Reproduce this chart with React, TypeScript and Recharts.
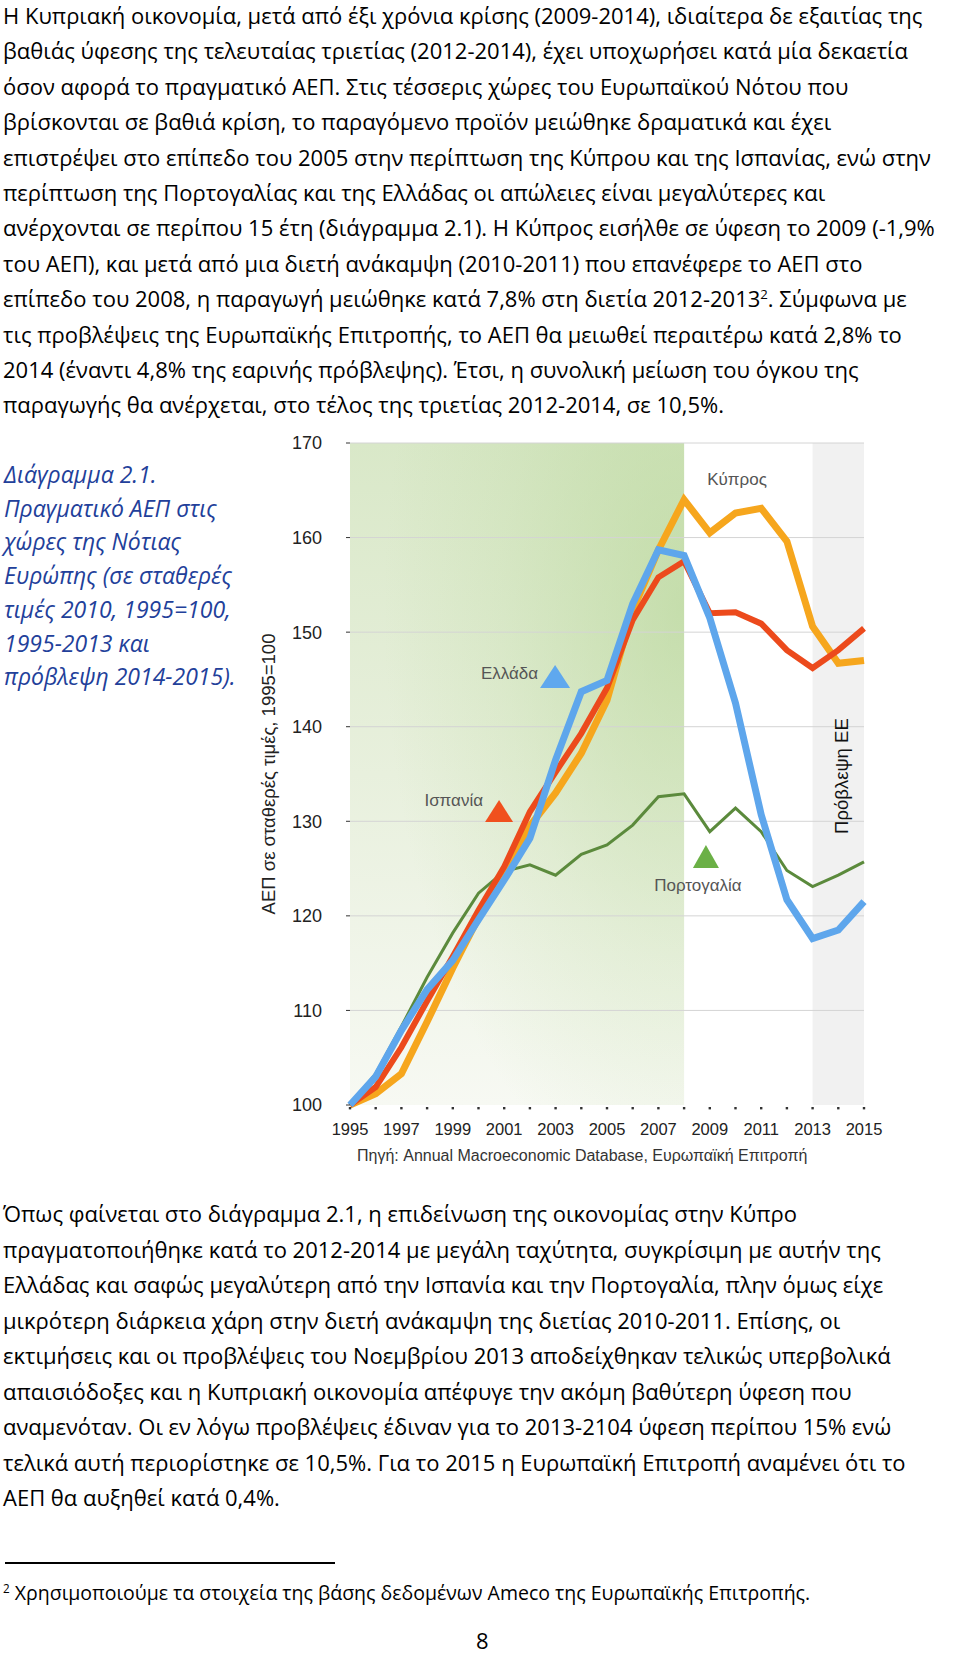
import React from 'react';
import {
  LineChart,
  Line,
  XAxis,
  YAxis,
  ReferenceArea,
  ReferenceLine,
  ReferenceDot,
} from 'recharts';

// Real GDP, constant prices, 1995=100 (AMECO)
const years = [
  1995, 1996, 1997, 1998, 1999, 2000, 2001, 2002, 2003, 2004, 2005,
  2006, 2007, 2008, 2009, 2010, 2011, 2012, 2013, 2014, 2015,
];
const cyprus = [
  100, 101.2, 103.3, 108.8, 114.5, 119.8, 124.5, 129.5, 133, 137.2, 142.8,
  152.3, 158.7, 164, 160.5, 162.6, 163.1, 159.6, 150.6, 146.7, 147,
];
const spain = [
  100, 101.9, 106.1, 111, 115.7, 120.6, 125.2, 131, 135.2, 139.3, 144.1,
  151.3, 155.8, 157.5, 152, 152.1, 150.9, 148.1, 146.2, 148.1, 150.4,
];
const greece = [
  100, 103, 107.9, 112.2, 115.3, 119.6, 123.8, 128.2, 136.5, 143.7, 144.9,
  153, 158.7, 158.1, 151.5, 142.5, 130.7, 121.7, 117.6, 118.5, 121.5,
];
const portugal = [
  100, 103.3, 108.3, 113.5, 118.2, 122.4, 124.7, 125.4, 124.3, 126.5, 127.5,
  129.6, 132.6, 132.9, 128.9, 131.4, 128.9, 124.8, 123.1, 124.3, 125.7,
];

const yTicks = [100, 110, 120, 130, 140, 150, 160, 170];
const gridValues = [110, 120, 130, 140, 150, 160, 170];
const xLabelYears = [1995, 1997, 1999, 2001, 2003, 2005, 2007, 2009, 2011, 2013, 2015];

const crisisStart = 1995;
const crisisEnd = 2008;
const forecastStart = 2013;
const forecastEnd = 2015;

const para1 = [
  'Η Κυπριακή οικονομία, μετά από έξι χρόνια κρίσης (2009-2014), ιδιαίτερα δε εξαιτίας της',
  'βαθιάς ύφεσης της τελευταίας τριετίας (2012-2014), έχει υποχωρήσει κατά μία δεκαετία',
  'όσον αφορά το πραγματικό ΑΕΠ. Στις τέσσερις χώρες του Ευρωπαϊκού Νότου που',
  'βρίσκονται σε βαθιά κρίση, το παραγόμενο προϊόν μειώθηκε δραματικά και έχει',
  'επιστρέψει στο επίπεδο του 2005 στην περίπτωση της Κύπρου και της Ισπανίας, ενώ στην',
  'περίπτωση της Πορτογαλίας και της Ελλάδας οι απώλειες είναι μεγαλύτερες και',
  'ανέρχονται σε περίπου 15 έτη (διάγραμμα 2.1). Η Κύπρος εισήλθε σε ύφεση το 2009 (-1,9%',
  'του ΑΕΠ), και μετά από μια διετή ανάκαμψη (2010-2011) που επανέφερε το ΑΕΠ στο',
  'επίπεδο του 2008, η παραγωγή μειώθηκε κατά 7,8% στη διετία 2012-2013^2. Σύμφωνα με',
  'τις προβλέψεις της Ευρωπαϊκής Επιτροπής, το ΑΕΠ θα μειωθεί περαιτέρω κατά 2,8% το',
  '2014 (έναντι 4,8% της εαρινής πρόβλεψης). Έτσι, η συνολική μείωση του όγκου της',
  'παραγωγής θα ανέρχεται, στο τέλος της τριετίας 2012-2014, σε 10,5%.',
];

const para2 = [
  'Όπως φαίνεται στο διάγραμμα 2.1, η επιδείνωση της οικονομίας στην Κύπρο',
  'πραγματοποιήθηκε κατά το 2012-2014 με μεγάλη ταχύτητα, συγκρίσιμη με αυτήν της',
  'Ελλάδας και σαφώς μεγαλύτερη από την Ισπανία και την Πορτογαλία, πλην όμως είχε',
  'μικρότερη διάρκεια χάρη στην διετή ανάκαμψη της διετίας 2010-2011. Επίσης, οι',
  'εκτιμήσεις και οι προβλέψεις του Νοεμβρίου 2013 αποδείχθηκαν τελικώς υπερβολικά',
  'απαισιόδοξες και η Κυπριακή οικονομία απέφυγε την ακόμη βαθύτερη ύφεση που',
  'αναμενόταν. Οι εν λόγω προβλέψεις έδιναν για το 2013-2104 ύφεση περίπου 15% ενώ',
  'τελικά αυτή περιορίστηκε σε 10,5%. Για το 2015 η Ευρωπαϊκή Επιτροπή αναμένει ότι το',
  'ΑΕΠ θα αυξηθεί κατά 0,4%.',
];

const caption = [
  'Διάγραμμα 2.1.',
  'Πραγματικό ΑΕΠ στις',
  'χώρες της Νότιας',
  'Ευρώπης (σε σταθερές',
  'τιμές 2010, 1995=100,',
  '1995-2013 και',
  'πρόβλεψη 2014-2015).',
];

const data = years.map((year, i) => ({
  year,
  cyprus: cyprus[i],
  spain: spain[i],
  greece: greece[i],
  portugal: portugal[i],
}));

const bodyFont = '"Open Sans", "Noto Sans", sans-serif';
const chartFont = '"Liberation Sans", Arial, sans-serif';

// renders "^2" as a superscript
function withSup(line: string) {
  const parts = line.split('^2');
  if (parts.length === 1) return line;
  return (
    <>
      {parts[0]}
      <sup style={{ fontSize: '0.6em', lineHeight: 0 }}>2</sup>
      {parts[1]}
    </>
  );
}

function TextBlock({ lines, top, step, style }: { lines: string[]; top: number; step: number; style?: React.CSSProperties }) {
  return (
    <>
      {lines.map((l, i) => (
        <div
          key={i}
          style={{
            position: 'absolute',
            left: 3,
            top: top + i * step - 17,
            height: 34,
            lineHeight: '34px',
            whiteSpace: 'nowrap',
            fontFamily: bodyFont,
            fontSize: 22,
            color: '#000',
            ...style,
          }}
        >
          {withSup(l)}
        </div>
      ))}
    </>
  );
}

const XTick = (props: any) => {
  const { x, y, payload } = props;
  const show = xLabelYears.includes(payload.value);
  return (
    <g>
      <rect x={x - 1.2} y={y + 2} width={2.4} height={2.4} fill="#333" />
      {show && (
        <text x={x} y={y + 30} textAnchor="middle" fontSize={16.5} fill="#222" fontFamily={chartFont}>
          {payload.value}
        </text>
      )}
    </g>
  );
};

const labelStyle = { fontFamily: chartFont, fontSize: 17, fill: '#555' };

const Tri = ({ cx, cy, w, h, color }: any) => (
  <polygon points={`${cx - w / 2},${cy + h / 2} ${cx + w / 2},${cy + h / 2} ${cx},${cy - h / 2}`} fill={color} />
);

export default function App() {
  return (
    <div style={{ position: 'absolute', left: 0, top: 0, width: 960, height: 1654, background: '#fff', overflow: 'hidden' }}>
      <TextBlock lines={para1} top={15} step={35.4} />

      <TextBlock lines={caption} top={474} step={33.7} style={{ fontStyle: 'italic', color: '#22409a', left: 4, fontSize: 23 }} />

      <div style={{ position: 'absolute', left: 240, top: 420, width: 680, height: 760 }}>
        <LineChart width={680} height={760} data={data} margin={{ top: 23, right: 56, bottom: 0, left: 0 }}>
          <defs>
            <linearGradient id="greenV" x1="0" y1="0" x2="0" y2="1">
              <stop offset="0%" stopColor="#d9e8c8" />
              <stop offset="50%" stopColor="#e8f0dd" />
              <stop offset="100%" stopColor="#f7f9f3" />
            </linearGradient>
            <radialGradient id="greenR" cx="1" cy="0.25" r="0.9">
              <stop offset="0%" stopColor="#b3d492" stopOpacity={0.6} />
              <stop offset="60%" stopColor="#b3d492" stopOpacity={0.2} />
              <stop offset="100%" stopColor="#b3d492" stopOpacity={0} />
            </radialGradient>
          </defs>
          <XAxis
            dataKey="year"
            type="number"
            domain={[1995, 2015]}
            ticks={years}
            interval={0}
            tickSize={0}
            tickMargin={0}
            axisLine={false}
            tickLine={false}
            height={75}
            tick={<XTick />}
          />
          <YAxis
            type="number"
            domain={[100, 170]}
            ticks={yTicks}
            width={110}
            tickSize={4}
            tickMargin={24}
            axisLine={false}
            tickLine={{ stroke: '#333' }}
            tick={{ fontSize: 18, fill: '#222', fontFamily: chartFont }}
            label={{
              value: 'ΑΕΠ σε σταθερές τιμές, 1995=100',
              angle: -90,
              position: 'insideLeft',
              offset: 28,
              style: { textAnchor: 'middle', fontSize: 18.5, fill: '#222', fontFamily: chartFont },
            }}
          />
          <ReferenceArea x1={crisisStart} x2={crisisEnd} y1={100} y2={170} fill="url(#greenV)" fillOpacity={1} stroke="none" />
          <ReferenceArea x1={crisisStart} x2={crisisEnd} y1={100} y2={170} fill="url(#greenR)" fillOpacity={1} stroke="none" />
          <ReferenceArea x1={forecastStart} x2={forecastEnd} y1={100} y2={170} fill="#f1f1f1" fillOpacity={1} stroke="none" />
          {gridValues.map((v) => (
            <ReferenceLine key={v} y={v} stroke="#d4d4d4" strokeWidth={1} />
          ))}

          <Line type="linear" dataKey="portugal" stroke="#5b8a3c" strokeWidth={3} dot={false} isAnimationActive={false} />
          <Line type="linear" dataKey="cyprus" stroke="#f6a61d" strokeWidth={7} dot={false} isAnimationActive={false} />
          <Line type="linear" dataKey="spain" stroke="#ec4a1c" strokeWidth={6} dot={false} isAnimationActive={false} />
          <Line type="linear" dataKey="greece" stroke="#5ea6ec" strokeWidth={7} dot={false} isAnimationActive={false} />

          <ReferenceDot
            x={2010.06}
            y={166.1}
            ifOverflow="visible"
            shape={(p: any) => (
              <text x={p.cx} y={p.cy} textAnchor="middle" dominantBaseline="central" {...labelStyle}>Κύπρος</text>
            )}
          />
          <ReferenceDot
            x={2002.98}
            y={145.3}
            ifOverflow="visible"
            shape={(p: any) => (
              <g>
                <Tri cx={p.cx} cy={p.cy} w={30} h={23} color="#5fa8ee" />
                <text x={p.cx - 17} y={p.cy - 3} textAnchor="end" dominantBaseline="central" {...labelStyle}>Ελλάδα</text>
              </g>
            )}
          />
          <ReferenceDot
            x={2000.8}
            y={131.08}
            ifOverflow="visible"
            shape={(p: any) => (
              <g>
                <Tri cx={p.cx} cy={p.cy} w={28} h={22} color="#f0501e" />
                <text x={p.cx - 16} y={p.cy - 11} textAnchor="end" dominantBaseline="central" {...labelStyle}>Ισπανία</text>
              </g>
            )}
          />
          <ReferenceDot
            x={2008.85}
            y={126.27}
            ifOverflow="visible"
            shape={(p: any) => (
              <g>
                <Tri cx={p.cx} cy={p.cy} w={26} h={23} color="#6bb046" />
                <text x={p.cx - 8} y={p.cy + 29} textAnchor="middle" dominantBaseline="central" {...labelStyle}>Πορτογαλία</text>
              </g>
            )}
          />
          <ReferenceDot
            x={2014.12}
            y={134.78}
            ifOverflow="visible"
            shape={(p: any) => (
              <text
                x={p.cx}
                y={p.cy}
                transform={`rotate(-90 ${p.cx} ${p.cy})`}
                textAnchor="middle"
                dominantBaseline="central"
                fontFamily={chartFont}
                fontSize={18.5}
                fill="#111"
              >
                Πρόβλεψη ΕΕ
              </text>
            )}
          />
        </LineChart>
        <div
          style={{
            position: 'absolute',
            left: 117,
            top: 727,
            fontFamily: chartFont,
            fontSize: 16,
            color: '#333',
            whiteSpace: 'nowrap',
            lineHeight: '18px',
          }}
        >
          Πηγή: Annual Macroeconomic Database, Ευρωπαϊκή Επιτροπή
        </div>
      </div>

      <TextBlock lines={para2} top={1213} step={35.5} />

      <div style={{ position: 'absolute', left: 5, top: 1562, width: 330, height: 2, background: '#000' }} />
      <div
        style={{
          position: 'absolute',
          left: 3,
          top: 1579,
          fontFamily: bodyFont,
          fontSize: 19.5,
          lineHeight: '28px',
          whiteSpace: 'nowrap',
          color: '#000',
        }}
      >
        <sup style={{ fontSize: '0.6em', lineHeight: 0 }}>2</sup> Χρησιμοποιούμε τα στοιχεία της βάσης δεδομένων Ameco της Ευρωπαϊκής Επιτροπής.
      </div>
      <div
        style={{
          position: 'absolute',
          left: 476,
          top: 1626,
          fontFamily: bodyFont,
          fontSize: 22,
          lineHeight: '28px',
          color: '#000',
        }}
      >
        8
      </div>
    </div>
  );
}
